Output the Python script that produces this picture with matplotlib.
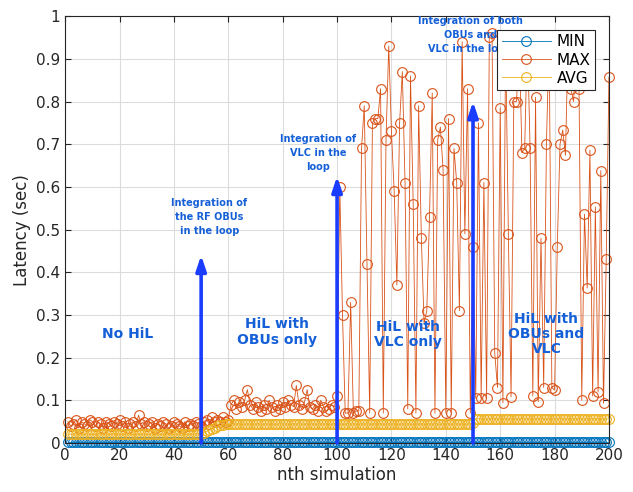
import numpy as np
import matplotlib
matplotlib.use("Agg")
import matplotlib.pyplot as plt


# -------------------
# DATA
# -------------------
sim = np.arange(1, 201)

max_lat = [
    # 1-50
    0.05, 0.04, 0.045, 0.055, 0.035, 0.05, 0.045, 0.04, 0.055, 0.05,
    0.04, 0.05, 0.045, 0.035, 0.05, 0.045, 0.04, 0.05, 0.045, 0.055,
    0.04, 0.05, 0.035, 0.045, 0.05, 0.04, 0.065, 0.045, 0.05, 0.04,
    0.045, 0.05, 0.035, 0.045, 0.04, 0.05, 0.045, 0.035, 0.04, 0.05,
    0.045, 0.04, 0.035, 0.05, 0.04, 0.045, 0.04, 0.05, 0.045, 0.04,
    # 51-60
    0.05, 0.055, 0.045, 0.06, 0.05, 0.055, 0.05, 0.06, 0.05, 0.055,
    # 61-99
    0.09, 0.10, 0.08, 0.095, 0.085, 0.10, 0.125, 0.09, 0.08, 0.095,
    0.085, 0.075, 0.09, 0.08, 0.10, 0.085, 0.075, 0.09, 0.08, 0.095,
    0.085, 0.10, 0.09, 0.085, 0.135, 0.09, 0.08, 0.095, 0.125, 0.085,
    0.08, 0.09, 0.075, 0.10, 0.085, 0.075, 0.08, 0.09, 0.085,
    # 100-150
    0.11, 0.60, 0.30, 0.07, 0.07, 0.33, 0.07, 0.075, 0.075, 0.69,
    0.79, 0.42, 0.07, 0.75, 0.76, 0.76, 0.83, 0.07, 0.71, 0.93,
    0.73, 0.59, 0.37, 0.75, 0.87, 0.61, 0.08, 0.86, 0.56, 0.07,
    0.79, 0.48, 0.28, 0.31, 0.53, 0.82, 0.07, 0.71, 0.74, 0.64,
    0.07, 0.76, 0.07, 0.69, 0.61, 0.31, 0.94, 0.49, 0.83, 0.07,
    0.46,
    # 151-200
    0.105, 0.75, 0.105, 0.61, 0.105, 0.95, 0.96, 0.21, 0.13, 0.785,
    0.094, 0.94, 0.49, 0.108, 0.80, 0.80, 0.94, 0.68, 0.69, 0.95,
    0.69, 0.11, 0.81, 0.097, 0.48, 0.13, 0.70, 0.95, 0.13, 0.124,
    0.46, 0.70, 0.733, 0.674, 0.95, 0.83, 0.80, 0.94, 0.83, 0.10,
    0.536, 0.363, 0.686, 0.11, 0.553, 0.12, 0.638, 0.093, 0.43, 0.857,
]

avg_lat = [
    # 1-50
    0.020, 0.021, 0.020, 0.022, 0.021, 0.020, 0.021, 0.022, 0.020, 0.021,
    0.020, 0.021, 0.022, 0.020, 0.021, 0.020, 0.021, 0.022, 0.021, 0.020,
    0.021, 0.020, 0.022, 0.021, 0.020, 0.021, 0.022, 0.020, 0.021, 0.020,
    0.021, 0.022, 0.020, 0.021, 0.020, 0.021, 0.022, 0.020, 0.021, 0.020,
    0.021, 0.020, 0.022, 0.021, 0.020, 0.021, 0.020, 0.022, 0.021, 0.022,
    # 51-60
    0.024, 0.027, 0.030, 0.033, 0.036, 0.039, 0.041, 0.043, 0.044, 0.044,
    # 61-150
    0.044, 0.045, 0.044, 0.045, 0.044, 0.044, 0.045, 0.044, 0.045, 0.044,
    0.045, 0.044, 0.044, 0.045, 0.044, 0.045, 0.044, 0.044, 0.045, 0.044,
    0.045, 0.044, 0.044, 0.045, 0.044, 0.045, 0.044, 0.044, 0.045, 0.044,
    0.045, 0.044, 0.044, 0.045, 0.044, 0.045, 0.044, 0.044, 0.045, 0.044,
    0.045, 0.044, 0.044, 0.045, 0.044, 0.045, 0.044, 0.044, 0.045, 0.044,
    0.045, 0.044, 0.044, 0.045, 0.044, 0.045, 0.044, 0.044, 0.045, 0.044,
    0.045, 0.044, 0.044, 0.045, 0.044, 0.045, 0.044, 0.044, 0.045, 0.044,
    0.045, 0.044, 0.044, 0.045, 0.044, 0.045, 0.044, 0.044, 0.045, 0.044,
    0.045, 0.044, 0.044, 0.045, 0.044, 0.045, 0.044, 0.044, 0.045, 0.046,
    # 151-200
    0.056, 0.057, 0.056, 0.057, 0.056, 0.057, 0.056, 0.057, 0.056, 0.057,
    0.056, 0.057, 0.056, 0.057, 0.056, 0.057, 0.056, 0.057, 0.056, 0.057,
    0.056, 0.057, 0.056, 0.057, 0.056, 0.057, 0.056, 0.057, 0.056, 0.057,
    0.056, 0.057, 0.056, 0.057, 0.056, 0.057, 0.056, 0.057, 0.056, 0.057,
    0.056, 0.057, 0.056, 0.057, 0.056, 0.057, 0.056, 0.057, 0.056, 0.057,
]

min_lat = [0.003] * 200

# phase transitions (arrow x, arrow tip) and labels
arrow_x = [50, 100, 150]
arrow_top = [0.44, 0.625, 0.80]
arrow_text = ["Integration of\nthe RF OBUs\nin the loop",
              "Integration of\nVLC in the\nloop",
              "Integration of both\nOBUs and\nVLC in the loop"]
arrow_text_pos = [(53, 0.53), (93, 0.68), (149, 0.955)]

phase_text = ["No HiL", "HiL with\nOBUs only", "HiL with\nVLC only",
              "HiL with\nOBUs and\nVLC"]
phase_pos = [(23, 0.255), (78, 0.26), (126, 0.255), (177, 0.255)]


# -------------------
# PLOT
# -------------------
fig = plt.figure(figsize=(6.33, 4.92), dpi=100)
ax = fig.add_axes([0.103, 0.0996, 0.859, 0.8676])

c_min, c_max, c_avg = "#0072BD", "#D95319", "#EDB120"
mk = dict(marker="o", markersize=7, markerfacecolor="none", linewidth=0.6,
          markeredgewidth=0.8, clip_on=False)
ax.plot(sim, min_lat, color=c_min, label="MIN", **mk)
ax.plot(sim, max_lat, color=c_max, label="MAX", **mk)
ax.plot(sim, avg_lat, color=c_avg, label="AVG", **mk)

arrow_col = "#1a3cff"
text_col = "#1560d8"
for xa, top in zip(arrow_x, arrow_top):
    ax.annotate("", xy=(xa, top), xytext=(xa, 0),
                arrowprops=dict(arrowstyle="-|>,head_width=0.3,head_length=0.9",
                                color=arrow_col, lw=2.6, shrinkA=0, shrinkB=0))

for txt, (tx, ty) in zip(arrow_text, arrow_text_pos):
    ax.text(tx, ty, txt, color=text_col, fontsize=7, fontweight="bold",
            ha="center", va="center", linespacing=1.5)

for txt, (tx, ty) in zip(phase_text, phase_pos):
    ax.text(tx, ty, txt, color=text_col, fontsize=10, fontweight="bold",
            ha="center", va="center", linespacing=1.1)

ax.set_xlim(0, 200)
ax.set_ylim(0, 1)
ax.set_xticks(np.arange(0, 201, 20))
ax.set_yticks(np.arange(0, 1.01, 0.1))
ax.set_yticklabels(["0", "0.1", "0.2", "0.3", "0.4", "0.5", "0.6", "0.7",
                    "0.8", "0.9", "1"])
ax.tick_params(direction="in", labelsize=11, length=4, colors="#262626",
               top=True, right=True)
ax.grid(True, color="#dcdcdc", linewidth=0.8)
ax.set_axisbelow(True)
for s in ax.spines.values():
    s.set_color("#262626")
    s.set_linewidth(0.8)

ax.set_xlabel("nth simulation", fontsize=12, color="#262626", labelpad=2)
ax.set_ylabel("Latency (sec)", fontsize=12, color="#262626", labelpad=4)

leg = ax.legend(loc="upper right", fontsize=11, fancybox=False,
                framealpha=1, edgecolor="#262626", borderaxespad=0.9,
                handlelength=3.2, labelspacing=0.2, borderpad=0.3,
                handletextpad=0.4)
leg.get_frame().set_linewidth(0.8)
leg.set_zorder(5)

fig.savefig("out.png", dpi=100)
